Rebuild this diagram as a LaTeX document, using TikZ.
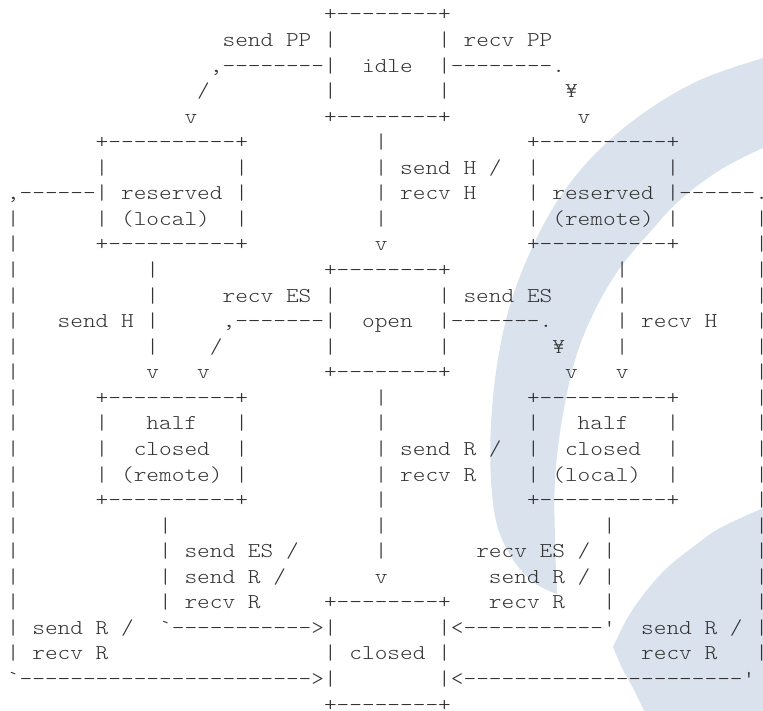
\documentclass[tikz,border=0pt]{standalone}
\usepackage{fontspec}
\setmonofont{lmmonolt10-regular.otf}[FakeStretch=1.142857]
\definecolor{ink}{HTML}{333333}
\definecolor{wm}{HTML}{DAE2EE}
\newlength\cw
\setlength\cw{12.684pt}
\newcommand\spx[1]{\hspace*{#1\cw}}
\newcommand\lastc[1]{\hspace*{0.5\cw}\makebox[0pt]{#1}}
\newcommand\Ln[2]{\node[asc] (l#1) at (6.96,{46.5+(#1-2)*25.56}) {#2};}
\begin{document}
\begin{tikzpicture}[x=1pt,y=-1pt,
  asc/.style={anchor=base west, inner sep=0pt, outer sep=0pt, text=ink,
    font=\ttfamily\fontsize{21.14}{25.56}\selectfont}]
\useasboundingbox (0,0) rectangle (763,710);
% watermark shapes
\fill[wm] plot[smooth, tension=0.6] coordinates {(775,56) (763,58) (700,80) (645,112) (597,152) (560,197) (532,248) (510,305) (497,365) (491,425) (491,480) (497,525) (512,558) (533,582) (557,594)}
  -- plot[smooth, tension=0.6] coordinates {(557,594) (555,540) (555,480) (562,420) (575,360) (595,310) (620,268) (650,232) (680,200) (720,170) (763,148) (775,145)} -- cycle;
\fill[wm] plot[smooth, tension=0.6] coordinates {(775,502) (763,508) (720,528) (693,547) (668,567) (647,590) (628,617) (613,647)}
  -- plot[smooth, tension=0.6] coordinates {(613,647) (622,668) (634,690) (646,715)} -- (775,715) -- cycle;
% ASCII diagram
\Ln{1}{\spx{25}+--------+}
\Ln{2}{\spx{17}send PP |\spx{8}| recv PP}
\Ln{3}{\spx{16},--------|\spx{2}idle\spx{2}|--------.}
\Ln{4}{\spx{15}/\spx{9}|\spx{8}|\spx{9}¥}
\Ln{5}{\spx{14}v\spx{10}+--------+\spx{10}v}
\Ln{6}{\spx{7}+----------+\spx{10}|\spx{11}+----------+}
\Ln{7}{\spx{7}|\spx{10}|\spx{10}| send H /\spx{2}|\spx{10}|}
\Ln{8}{,------| reserved |\spx{10}| recv H\spx{4}| reserved |------\lastc{.}}
\Ln{9}{|\spx{6}| (local)\spx{2}|\spx{10}|\spx{11}| (remote) |\spx{6}\lastc{|}}
\Ln{10}{|\spx{6}+----------+\spx{10}v\spx{11}+----------+\spx{6}\lastc{|}}
\Ln{11}{|\spx{10}|\spx{13}+--------+\spx{13}|\spx{10}\lastc{|}}
\Ln{12}{|\spx{10}|\spx{5}recv ES |\spx{8}| send ES\spx{5}|\spx{10}\lastc{|}}
\Ln{13}{|\spx{3}send H |\spx{5},-------|\spx{2}open\spx{2}|-------.\spx{5}| recv H\spx{3}\lastc{|}}
\Ln{14}{|\spx{10}|\spx{4}/\spx{8}|\spx{8}|\spx{8}¥\spx{4}|\spx{10}\lastc{|}}
\Ln{15}{|\spx{10}v\spx{3}v\spx{9}+--------+\spx{9}v\spx{3}v\spx{10}\lastc{|}}
\Ln{16}{|\spx{6}+----------+\spx{10}|\spx{11}+----------+\spx{6}\lastc{|}}
\Ln{17}{|\spx{6}|\spx{3}half\spx{3}|\spx{10}|\spx{11}|\spx{3}half\spx{3}|\spx{6}\lastc{|}}
\Ln{18}{|\spx{6}|\spx{2}closed\spx{2}|\spx{10}| send R /\spx{2}|\spx{2}closed\spx{2}|\spx{6}\lastc{|}}
\Ln{19}{|\spx{6}| (remote) |\spx{10}| recv R\spx{4}| (local)\spx{2}|\spx{6}\lastc{|}}
\Ln{20}{|\spx{6}+----------+\spx{10}|\spx{11}+----------+\spx{6}\lastc{|}}
\Ln{21}{|\spx{11}|\spx{16}|\spx{17}|\spx{11}\lastc{|}}
\Ln{22}{|\spx{11}| send ES /\spx{6}|\spx{7}recv ES / |\spx{11}\lastc{|}}
\Ln{23}{|\spx{11}| send R /\spx{7}v\spx{8}send R / |\spx{11}\lastc{|}}
\Ln{24}{|\spx{11}| recv R\spx{5}+--------+\spx{3}recv R\spx{3}|\spx{11}\lastc{|}}
\Ln{25}{| send R /\spx{2}`----------->|\spx{8}|<-----------'\spx{2}send R / \lastc{|}}
\Ln{26}{| recv R\spx{17}| closed |\spx{15}recv R\spx{3}\lastc{|}}
\Ln{27}{`----------------------->|\spx{8}|<----------------------\lastc{'}}
\Ln{28}{\spx{25}+--------+}
\end{tikzpicture}
\end{document}
